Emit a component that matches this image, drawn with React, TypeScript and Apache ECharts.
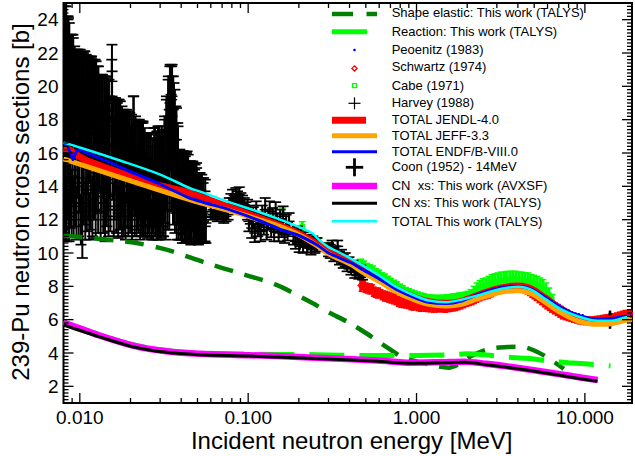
import React, { useEffect, useRef } from 'react';
import * as echarts from 'echarts';

const FONT = '"Liberation Sans", Arial, Helvetica, sans-serif';

// ---- axes ----
const xMin = 0.008;
const xMax = 19.05;
const yMin = 1;
const yMax = 25;
const xMajorTicks = [0.01, 0.1, 1, 10];
const xMinorTicks = [0.009, 0.02, 0.03, 0.04, 0.05, 0.06, 0.07, 0.08, 0.09, 0.2, 0.3, 0.4, 0.5, 0.6, 0.7, 0.8, 0.9, 2, 3, 4, 5, 6, 7, 8, 9];
const yMajorTicks = [2, 4, 6, 8, 10, 12, 14, 16, 18, 20, 22, 24];
const yMinorTicks: number[] = [];
for (let k = 6; k <= 124; k++) { if (k % 10 !== 0) yMinorTicks.push(k / 5); }

// ---- theory / evaluation curves ----
const shapeElE = [0.008, 0.0166, 0.0217, 0.0327, 0.0564, 0.088, 0.146, 0.23, 0.3, 0.4, 0.5, 0.6, 0.7, 0.84, 1.0, 1.2, 1.55, 1.8, 2.1, 2.7, 3.5, 4.2, 5.0, 5.9, 6.7, 7.5];
const shapeElY = [11.05, 10.75, 10.6, 10.2, 9.4, 8.8, 8.1, 7.1, 6.45, 5.8, 5.2, 4.65, 4.2, 3.7, 3.5, 3.3, 3.12, 3.35, 3.8, 4.25, 4.36, 4.38, 4.15, 3.77, 3.4, 3.05];

const reactionE = [0.008, 0.0131, 0.0206, 0.0327, 0.0513, 0.101, 0.25, 0.5, 1.0, 1.5, 2.0, 2.8, 3.5, 4.5, 6.4, 8.0, 10, 14.2];
const reactionY = [5.86, 5.1, 4.5, 4.15, 4.0, 3.93, 3.9, 3.85, 3.85, 3.88, 3.95, 3.85, 3.75, 3.68, 3.5, 3.42, 3.35, 3.22];

const jendlE = [0.008, 0.0086, 0.0107, 0.0192, 0.029, 0.039, 0.0448, 0.0772, 0.116, 0.153, 0.2, 0.26, 0.30, 0.41, 0.47, 0.6, 0.75, 0.99, 1.18, 1.5, 1.85, 2.3, 2.67, 3.2, 3.65, 4.0, 4.5, 5.0, 5.8, 7.2, 9.1, 11.9, 14.3, 17.3, 19.05];
const jendlY = [16.3, 16.2, 15.6, 14.66, 14.07, 13.77, 13.6, 12.75, 12.1, 11.65, 11.15, 10.5, 10.05, 9.4, 9.05, 8.45, 7.85, 7.3, 7.08, 6.98, 7.1, 7.45, 7.68, 7.9, 8.0, 8.02, 7.95, 7.75, 7.3, 6.65, 6.12, 5.98, 6.06, 6.25, 6.35];

const jeffE = [0.008, 0.0448, 0.0772, 0.116, 0.153, 0.2, 0.26, 0.30, 0.41, 0.47, 0.6, 0.75, 0.99, 1.18, 1.5, 1.85, 2.3, 2.67, 3.2, 3.65, 4.0, 4.5, 5.0, 5.8, 7.2, 9.1, 11.9, 14.3, 17.3, 19.05];
const jeffY = [15.65, 13.2, 12.55, 12.0, 11.6, 11.1, 10.4, 9.95, 9.3, 8.9, 8.3, 7.7, 7.15, 6.92, 6.82, 6.92, 7.25, 7.45, 7.65, 7.72, 7.74, 7.66, 7.48, 7.05, 6.42, 5.92, 5.72, 5.75, 5.95, 6.02];

const endfE = [0.008, 0.0084, 0.0088, 0.0091, 0.0094, 0.0098, 0.0107, 0.015, 0.0192, 0.029, 0.0448, 0.0772, 0.116, 0.153, 0.2, 0.26, 0.30, 0.41, 0.47, 0.6, 0.75, 0.99, 1.18, 1.5, 1.85, 2.3, 2.67, 3.2, 3.65, 4.0, 4.5, 5.0, 5.8, 7.2, 9.1, 11.9, 14.3, 17.3, 19.05];
const endfY = [16.6, 16.45, 16.0, 15.6, 15.95, 16.2, 16.05, 15.45, 14.95, 14.2, 13.3, 12.6, 11.95, 11.45, 11.05, 10.45, 10.0, 9.4, 9.05, 8.45, 7.85, 7.3, 7.05, 6.97, 7.12, 7.5, 7.72, 7.93, 8.0, 8.0, 7.93, 7.75, 7.35, 6.72, 6.27, 6.02, 6.07, 6.2, 6.22];

const cnE = [0.008, 0.0131, 0.0206, 0.0327, 0.0513, 0.101, 0.25, 0.59, 0.93, 1.4, 1.94, 2.6, 3.6, 5.7, 8.5, 11.9];
const cnAvxsfY = [5.82, 5.05, 4.45, 4.1, 3.95, 3.87, 3.72, 3.55, 3.42, 3.45, 3.48, 3.35, 3.17, 2.88, 2.6, 2.38];
const cnTalysY = [5.68, 4.97, 4.38, 4.04, 3.9, 3.82, 3.67, 3.5, 3.38, 3.41, 3.44, 3.3, 3.12, 2.82, 2.53, 2.3];

const totTalysE = [0.008, 0.01, 0.0173, 0.0298, 0.0448, 0.0513, 0.0772, 0.116, 0.153, 0.175, 0.239, 0.263, 0.30, 0.33, 0.41, 0.47, 0.6, 0.75, 0.99, 1.18, 1.5, 1.85, 2.3, 2.67, 3.2, 3.65, 4.0, 4.5, 5.0, 5.8, 7.2, 9.1, 11.9, 14.3, 17.3, 18.5];
const totTalysY = [16.62, 16.33, 15.55, 14.72, 13.9, 13.7, 13.05, 12.46, 12.02, 11.8, 11.2, 10.8, 10.35, 10.15, 9.65, 9.3, 8.65, 8.0, 7.42, 7.15, 7.05, 7.2, 7.45, 7.65, 7.85, 7.95, 7.98, 7.9, 7.7, 7.25, 6.63, 6.19, 5.93, 5.93, 6.13, 6.2];

// ---- experimental data: [energy MeV, sigma b, error b] ----
const peoenitz: number[][] = [
  [2.2, 7.55, 0.12], [2.3, 7.6, 0.12], [2.4, 7.68, 0.12], [5.6, 7.55, 0.15], [5.9, 7.35, 0.15], [6.2, 7.2, 0.15],
  [6.5, 7.05, 0.15], [6.8, 6.9, 0.15], [7.1, 6.8, 0.15], [7.4, 6.68, 0.15], [7.7, 6.55, 0.15], [8.0, 6.48, 0.15],
  [8.4, 6.4, 0.12], [8.8, 6.33, 0.12], [9.2, 6.28, 0.12], [9.7, 6.22, 0.12], [17.5, 6.3, 0.1], [18.3, 6.32, 0.1], [19.0, 6.35, 0.1],
];

const schwartz: number[][] = [
  [0.466, 8.05, 0.35], [0.478, 8.1, 0.3], [0.49, 8.0, 0.35], [0.505, 7.9, 0.3], [0.52, 7.85, 0.3], [0.535, 7.85, 0.3],
  [0.55, 7.75, 0.35], [0.565, 7.65, 0.3], [0.58, 7.6, 0.3], [0.6, 7.6, 0.3], [0.62, 7.5, 0.3], [0.64, 7.42, 0.3],
  [0.66, 7.4, 0.3], [0.68, 7.35, 0.3], [0.70, 7.3, 0.3], [0.725, 7.25, 0.3], [0.75, 7.2, 0.3], [0.775, 7.1, 0.3],
  [0.80, 7.05, 0.3], [0.83, 7.0, 0.28], [0.86, 6.95, 0.25], [0.89, 6.95, 0.28], [0.92, 6.9, 0.3], [0.95, 6.85, 0.28],
  [0.98, 6.85, 0.25], [1.015, 6.82, 0.28], [1.05, 6.8, 0.3], [1.085, 6.78, 0.27], [1.12, 6.75, 0.25], [1.16, 6.74, 0.25],
  [1.2, 6.72, 0.25], [1.25, 6.7, 0.25], [1.3, 6.7, 0.25], [1.35, 6.72, 0.25], [1.4, 6.72, 0.25], [1.45, 6.7, 0.25],
  [1.5, 6.7, 0.25], [1.55, 6.73, 0.25], [1.6, 6.75, 0.25], [1.66, 6.77, 0.25], [1.72, 6.8, 0.25], [1.78, 6.85, 0.25],
  [1.85, 6.9, 0.25], [1.92, 6.97, 0.25], [2.0, 7.05, 0.25], [2.07, 7.1, 0.25], [2.15, 7.15, 0.25], [2.22, 7.22, 0.25],
  [2.3, 7.3, 0.25], [2.4, 7.38, 0.25], [2.5, 7.45, 0.25], [2.6, 7.5, 0.25], [2.7, 7.55, 0.25], [2.8, 7.62, 0.25],
  [2.9, 7.7, 0.25], [3.0, 7.75, 0.22], [3.1, 7.8, 0.2], [3.22, 7.85, 0.2], [3.35, 7.9, 0.2], [3.47, 7.93, 0.2],
  [3.6, 7.95, 0.2], [3.75, 7.96, 0.2], [3.9, 7.95, 0.2], [4.05, 7.93, 0.2], [4.2, 7.9, 0.2], [4.35, 7.85, 0.22],
  [4.5, 7.8, 0.25], [4.65, 7.7, 0.25], [4.8, 7.6, 0.25], [4.95, 7.5, 0.25], [5.1, 7.4, 0.25], [5.3, 7.27, 0.25],
  [5.5, 7.15, 0.25], [5.7, 7.02, 0.25], [5.9, 6.9, 0.25], [6.1, 6.8, 0.25], [6.3, 6.7, 0.25], [6.55, 6.6, 0.25],
  [6.8, 6.5, 0.25], [7.05, 6.4, 0.25], [7.3, 6.3, 0.25], [7.6, 6.22, 0.22], [7.9, 6.15, 0.2], [8.2, 6.1, 0.2],
  [8.5, 6.05, 0.2], [8.85, 6.0, 0.2], [9.2, 5.95, 0.2], [9.6, 5.92, 0.2], [10.0, 5.9, 0.2], [10.4, 5.9, 0.2],
  [10.8, 5.92, 0.2], [11.25, 5.96, 0.2], [11.7, 6.0, 0.2], [12.15, 6.02, 0.2], [12.6, 6.05, 0.2], [13.1, 6.08, 0.2],
  [13.6, 6.1, 0.2], [14.15, 6.12, 0.2], [14.7, 6.15, 0.2], [15.3, 6.2, 0.2], [15.9, 6.25, 0.2], [16.55, 6.3, 0.2],
  [17.2, 6.35, 0.2], [17.9, 6.38, 0.18], [18.6, 6.4, 0.15],
];

const cabe: number[][] = [
  [0.1596, 12.38, 0.32], [0.2096, 11.58, 0.3], [0.2633, 10.6, 0.3], [0.3085, 10.3, 0.3],
  [0.297, 10.4, 0.2], [0.33, 9.9, 0.2], [0.36, 9.6, 0.2], [0.396, 9.4, 0.2], [0.436, 9.1, 0.2],
  [0.4656, 9.45, 0.18], [0.4849, 9.35, 0.17], [0.5051, 9.22, 0.15], [0.5263, 9.15, 0.14], [0.5482, 9.04, 0.18],
  [0.5711, 8.9, 0.15], [0.5949, 8.8, 0.17], [0.6197, 8.67, 0.14], [0.6455, 8.58, 0.16], [0.6725, 8.45, 0.15],
  [0.7005, 8.33, 0.14], [0.7297, 8.22, 0.15], [0.7603, 8.12, 0.15], [0.7919, 8.0, 0.13], [0.825, 7.9, 0.13],
  [0.8594, 7.8, 0.12], [0.8953, 7.74, 0.12], [0.9326, 7.65, 0.12], [0.9712, 7.58, 0.13], [1.012, 7.52, 0.14],
  [1.054, 7.46, 0.14], [1.098, 7.41, 0.15], [1.144, 7.35, 0.16], [1.192, 7.32, 0.17], [1.241, 7.3, 0.17],
  [1.293, 7.28, 0.17], [1.347, 7.28, 0.18], [1.403, 7.27, 0.19], [1.462, 7.26, 0.2], [1.522, 7.28, 0.22],
  [1.586, 7.29, 0.21], [1.652, 7.33, 0.22], [1.721, 7.35, 0.21], [1.793, 7.38, 0.22], [1.867, 7.41, 0.2],
  [1.945, 7.45, 0.2], [2.026, 7.5, 0.2], [2.111, 7.57, 0.23], [2.199, 7.7, 0.3], [2.291, 7.82, 0.38],
  [2.386, 7.93, 0.42], [2.486, 8.01, 0.44], [2.589, 8.06, 0.44], [2.697, 8.14, 0.46], [2.81, 8.21, 0.49],
  [2.927, 8.26, 0.49], [3.049, 8.3, 0.5], [3.176, 8.35, 0.5], [3.308, 8.37, 0.48], [3.446, 8.4, 0.49],
  [3.59, 8.42, 0.48], [3.74, 8.43, 0.47], [3.896, 8.44, 0.46], [4.059, 8.42, 0.43], [4.228, 8.4, 0.45],
  [4.404, 8.36, 0.45], [4.588, 8.33, 0.47], [4.779, 8.24, 0.46], [4.979, 8.18, 0.48], [5.186, 8.09, 0.51],
  [5.403, 7.97, 0.53], [5.628, 7.85, 0.55], [5.862, 7.7, 0.5], [6.107, 7.5, 0.4], [6.361, 7.25, 0.25],
];

const harvey: number[][] = [
  [0.00802, 20.5, 4.8], [0.00806, 14.0, 3.0], [0.00812, 19.5, 5.8], [0.00818, 13.0, 2.2], [0.00824, 16.5, 3.5],
  [0.0083, 21.0, 4.2], [0.00836, 12.5, 1.8], [0.00842, 18.0, 4.2], [0.00849, 15.0, 3.0], [0.00856, 20.5, 3.6],
  [0.00863, 12.2, 1.5], [0.0087, 17.0, 3.5], [0.00878, 14.5, 3.0], [0.00886, 19.5, 3.6], [0.00894, 13.0, 2.0],
  [0.00902, 16.0, 3.0], [0.0091, 19.8, 3.3], [0.00919, 12.8, 1.8], [0.00928, 17.5, 3.0], [0.00937, 14.2, 2.6],
  [0.00946, 19.0, 3.2], [0.00955, 12.4, 1.6], [0.00965, 16.5, 3.2], [0.00975, 18.8, 3.4], [0.00985, 13.5, 2.5],
  [0.00995, 15.5, 3.0], [0.01005, 19.0, 3.2], [0.01015, 12.0, 1.5], [0.01025, 16.0, 3.0], [0.01035, 13.0, 3.3],
  [0.01045, 18.2, 3.0], [0.01056, 14.5, 2.8], [0.01067, 19.0, 3.1], [0.01078, 12.5, 1.7], [0.0109, 16.8, 3.0],
  [0.01101, 13.8, 2.5], [0.01113, 18.5, 3.3], [0.01125, 15.0, 3.0], [0.01137, 12.2, 1.4], [0.0115, 17.5, 3.2],
  [0.01162, 14.0, 2.6], [0.01175, 18.4, 3.4], [0.01188, 12.8, 1.8], [0.01201, 16.2, 3.0], [0.01214, 14.8, 2.8],
  [0.01228, 18.0, 3.6], [0.01242, 12.6, 1.7], [0.01256, 15.8, 3.2], [0.0127, 17.2, 3.2], [0.01285, 13.4, 2.2],
  [0.013, 16.8, 3.0], [0.01315, 17.3, 3.3], [0.0133, 12.4, 1.6], [0.01346, 15.5, 3.0], [0.01362, 17.2, 3.5],
  [0.01378, 13.6, 2.4], [0.01395, 16.0, 3.0], [0.01412, 12.0, 1.3], [0.01429, 17.0, 3.4], [0.01446, 14.4, 2.8],
  [0.01464, 15.6, 3.4], [0.01482, 12.8, 1.8], [0.015, 16.4, 3.0], [0.0152, 13.5, 2.2], [0.01548, 18.6, 3.0],
  [0.01552, 20.3, 2.2], [0.01555, 19.4, 1.5], [0.0157, 16.2, 3.0], [0.0159, 12.6, 1.6], [0.0161, 15.0, 3.0],
  [0.0163, 16.4, 2.9], [0.0165, 13.2, 2.0], [0.0167, 15.8, 3.2], [0.0169, 12.4, 1.5], [0.01712, 16.0, 3.2],
  [0.01734, 14.0, 2.6], [0.01756, 15.2, 3.0], [0.01778, 12.8, 1.8], [0.018, 15.6, 3.0], [0.01822, 13.0, 2.0],
  [0.01845, 15.0, 3.4], [0.01868, 12.2, 1.4], [0.01892, 15.8, 2.8], [0.01916, 14.0, 2.5], [0.0194, 12.8, 1.8],
  [0.01965, 15.2, 3.2], [0.0199, 13.6, 2.4], [0.02015, 14.6, 3.0], [0.0204, 12.4, 1.6], [0.02065, 15.0, 2.8],
  [0.0209, 16.0, 3.4], [0.02115, 13.2, 2.2], [0.02142, 15.2, 3.0], [0.0217, 12.6, 1.6], [0.02198, 14.6, 3.2],
  [0.02226, 13.4, 2.2], [0.02255, 15.0, 3.0], [0.02284, 12.2, 1.4], [0.02313, 14.8, 3.1], [0.02343, 13.0, 2.0],
  [0.02373, 15.0, 2.9], [0.02404, 12.8, 1.8], [0.02435, 14.4, 2.8], [0.02466, 13.2, 2.2], [0.02498, 14.6, 2.6],
  [0.0253, 12.4, 1.5], [0.02563, 14.2, 3.0], [0.02596, 13.0, 2.0], [0.0263, 14.4, 2.8], [0.02664, 12.0, 1.2],
  [0.02698, 13.8, 2.6], [0.02733, 12.6, 1.8], [0.02768, 14.5, 3.0], [0.02804, 12.8, 1.8], [0.0284, 14.0, 2.8],
  [0.02877, 12.3, 1.5], [0.02914, 14.8, 2.8], [0.02951, 13.2, 2.4], [0.02989, 14.2, 3.0], [0.03028, 12.5, 1.6],
  [0.03067, 14.6, 3.0], [0.03107, 13.0, 2.0], [0.03147, 14.0, 3.0], [0.03188, 15.0, 3.2], [0.03229, 13.0, 2.2],
  [0.0327, 16.0, 3.4], [0.03312, 14.4, 3.0], [0.03355, 17.0, 3.6], [0.03398, 15.0, 3.6], [0.03442, 18.2, 3.1],
  [0.03487, 16.0, 3.5], [0.03532, 17.4, 3.9], [0.0353, 19.4, 1.2], [0.03578, 15.2, 3.5], [0.03624, 16.8, 3.4],
  [0.03671, 14.0, 2.8], [0.03718, 15.6, 3.2], [0.03766, 13.0, 2.2], [0.03815, 14.8, 3.0], [0.03864, 12.6, 1.8],
  [0.03914, 13.8, 2.4], [0.03965, 12.4, 1.6], [0.04016, 13.4, 2.6], [0.04068, 12.0, 1.4], [0.04121, 13.6, 2.5],
  [0.04174, 12.8, 2.0], [0.04228, 13.2, 2.6], [0.04283, 12.2, 1.5], [0.04338, 13.8, 2.3], [0.04394, 12.6, 1.8],
  [0.04451, 13.2, 2.3], [0.04509, 12.0, 1.4], [0.04567, 13.0, 2.5], [0.04626, 12.4, 1.6], [0.04686, 13.4, 2.1],
  [0.04746, 12.0, 1.3], [0.04808, 12.8, 2.2], [0.0487, 12.2, 1.6], [0.04933, 13.0, 2.4], [0.04997, 12.6, 2.0],
  [0.05062, 12.0, 1.5], [0.05127, 12.8, 2.0], [0.05194, 12.2, 1.6], [0.05261, 12.6, 1.9], [0.05329, 11.8, 1.2],
  [0.05398, 12.4, 1.8], [0.05468, 12.0, 1.4], [0.05539, 12.2, 1.5], [0.0561, 11.8, 1.2],
  // upper part of the resonance-region cloud
  [0.00804, 22.5, 2.6], [0.00815, 21.8, 3.0], [0.00827, 22.0, 2.8], [0.00839, 21.5, 2.7], [0.00852, 21.8, 2.4],
  [0.00866, 21.0, 2.8], [0.0088, 21.0, 2.1], [0.00898, 20.8, 2.3], [0.00914, 20.5, 2.4], [0.00932, 20.2, 2.2],
  [0.0095, 20.0, 2.2], [0.0097, 19.8, 2.4], [0.0099, 20.2, 2.0], [0.0101, 19.8, 2.2], [0.0103, 20.0, 2.0],
  [0.0105, 19.6, 2.4], [0.0107, 19.9, 2.2], [0.0109, 19.5, 2.4], [0.0111, 19.8, 2.0], [0.0113, 19.4, 2.3],
  [0.0115, 19.6, 2.2], [0.0117, 19.3, 2.4], [0.0119, 19.6, 2.0], [0.0121, 19.2, 2.3], [0.0123, 19.4, 2.2],
  [0.0125, 19.0, 2.5], [0.0127, 19.2, 2.0], [0.0129, 18.8, 2.4], [0.0131, 18.6, 2.0], [0.0134, 18.6, 2.1],
  [0.0137, 18.4, 2.2], [0.014, 18.7, 1.9], [0.0143, 18.2, 2.4], [0.0146, 18.5, 2.0], [0.0149, 18.0, 2.4],
  [0.0154, 17.6, 1.7], [0.0158, 17.4, 1.9], [0.0162, 17.2, 2.0], [0.0166, 17.5, 1.7], [0.017, 17.0, 2.2],
  [0.0174, 17.3, 1.8], [0.0178, 16.8, 2.0], [0.0183, 16.8, 1.8], [0.0188, 16.4, 2.1], [0.0193, 16.6, 1.9],
  [0.0198, 16.2, 2.2], [0.0203, 16.5, 1.8], [0.0208, 17.6, 1.8], [0.0213, 16.2, 1.8], [0.0219, 16.0, 2.0],
  [0.0225, 16.2, 1.7], [0.0231, 15.8, 2.0], [0.0237, 16.0, 1.8], [0.0243, 15.6, 1.9], [0.025, 15.4, 1.8],
  [0.0257, 15.2, 2.0], [0.0264, 15.4, 1.7], [0.0271, 15.0, 1.9], [0.0279, 15.6, 1.9], [0.0287, 15.2, 2.1],
  [0.0295, 15.7, 1.9], [0.0303, 15.3, 2.0], [0.0311, 15.6, 1.8], [0.0319, 16.0, 2.0], [0.0327, 17.2, 2.0],
  [0.0335, 18.2, 2.2], [0.0343, 19.0, 2.2], [0.0351, 19.2, 2.0], [0.0359, 18.6, 2.0], [0.0367, 17.8, 2.0],
  [0.0375, 16.8, 1.9], [0.0383, 15.8, 1.8], [0.0392, 14.8, 1.4], [0.0401, 14.6, 1.5], [0.041, 14.8, 1.3],
  [0.042, 14.5, 1.5], [0.043, 14.6, 1.4], [0.044, 14.4, 1.5], [0.045, 14.2, 1.3], [0.0461, 14.0, 1.4],
  [0.0472, 14.2, 1.2], [0.0483, 13.8, 1.5], [0.0494, 13.8, 1.3], [0.0506, 13.6, 1.2], [0.0518, 13.4, 1.4],
  [0.053, 13.5, 1.2], [0.0543, 13.2, 1.3], [0.0556, 13.0, 1.4],
  // 0.06 - 0.5 MeV
  [0.06, 12.5, 0.35], [0.0618, 12.3, 0.3], [0.0636, 12.4, 0.35], [0.0655, 12.2, 0.3], [0.0675, 12.3, 0.3],
  [0.0695, 12.4, 0.35], [0.0716, 12.1, 0.3], [0.0738, 12.2, 0.3], [0.076, 12.3, 0.3],
  [0.0772, 12.9, 0.4], [0.079, 13.1, 0.45], [0.0808, 13.3, 0.5], [0.0826, 13.0, 0.45], [0.0845, 13.4, 0.5],
  [0.0865, 13.2, 0.5], [0.0885, 13.5, 0.45], [0.0905, 13.2, 0.4], [0.0926, 13.0, 0.45], [0.0947, 12.9, 0.4],
  [0.0969, 12.7, 0.35],
  [0.0992, 12.6, 0.6], [0.101, 11.9, 0.6], [0.103, 12.3, 0.55], [0.105, 11.5, 0.6], [0.1072, 12.1, 0.65],
  [0.1094, 11.2, 0.55], [0.1117, 12.4, 0.7], [0.114, 11.6, 0.6], [0.1163, 11.9, 0.55], [0.1187, 11.3, 0.6],
  [0.1212, 12.2, 0.65], [0.1237, 11.7, 0.6], [0.1262, 12.6, 0.7], [0.1288, 11.4, 0.6], [0.1315, 12.0, 0.6],
  [0.1342, 12.5, 0.6], [0.137, 11.5, 0.55], [0.1398, 12.1, 0.6], [0.1427, 11.3, 0.6], [0.1456, 12.4, 0.65],
  [0.1486, 11.8, 0.55], [0.1517, 11.2, 0.5], [0.1548, 12.0, 0.6], [0.158, 11.5, 0.55], [0.1612, 12.2, 0.6],
  [0.1645, 11.1, 0.5], [0.168, 11.7, 0.6], [0.1714, 11.3, 0.55], [0.175, 11.9, 0.5],
  [0.186, 11.0, 0.5], [0.191, 10.7, 0.45], [0.196, 11.1, 0.5], [0.201, 10.5, 0.45], [0.206, 10.9, 0.5],
  [0.212, 10.4, 0.4], [0.218, 10.8, 0.45], [0.224, 10.5, 0.45], [0.23, 10.7, 0.4], [0.236, 10.3, 0.4],
  [0.242, 10.6, 0.4], [0.249, 10.4, 0.4], [0.256, 10.5, 0.4],
  [0.3, 10.2, 0.4], [0.307, 10.1, 0.4], [0.315, 10.3, 0.45], [0.323, 9.9, 0.4], [0.331, 10.0, 0.4],
  [0.34, 10.4, 0.35], [0.349, 9.7, 0.4], [0.358, 9.8, 0.4], [0.367, 9.5, 0.4], [0.377, 9.6, 0.4],
  [0.387, 9.3, 0.4], [0.397, 9.4, 0.35], [0.408, 9.1, 0.4], [0.419, 9.2, 0.35], [0.43, 8.9, 0.4],
  [0.442, 9.0, 0.35], [0.454, 8.8, 0.35], [0.466, 8.9, 0.35], [0.478, 8.7, 0.3],
];

const coon: number[][] = [[14.1, 6.0, 0.55]];

// ---- legend ----
const legendLabels = [
  'Shape elastic: This work (TALYS)',
  'Reaction: This work (TALYS)',
  'Peoenitz (1983)',
  'Schwartz (1974)',
  'Cabe (1971)',
  'Harvey (1988)',
  'TOTAL JENDL-4.0',
  'TOTAL JEFF-3.3',
  'TOTAL ENDF/B-VIII.0',
  'Coon (1952) - 14MeV',
  'CN  xs: This work (AVXSF)',
  'CN xs: This work (TALYS)',
  'TOTAL This work (TALYS)',
];

const C_DKGREEN = '#008000';
const C_LTGREEN = '#00ff00';
const C_RED = '#ff0000';
const C_ORANGE = '#ffa500';
const C_BLUE = '#0000ff';
const C_MAGENTA = '#ff00ff';
const C_CYAN = '#00ffff';

const zip = (xs: number[], ys: number[]) => xs.map((x, i) => [x, ys[i]]);

function lineSeries(name: string, xs: number[], ys: number[], color: string, width: number, type: any = 'solid', smooth: any = 0.3) {
  return {
    type: 'line', name, data: zip(xs, ys), showSymbol: false, symbol: 'none', silent: true, smooth,
    lineStyle: { color, width, type, cap: 'butt' }, clip: true,
  };
}

function errSeries(name: string, data: number[][], o: { color: string; lw: number; cap: number; clw: number; marker: string; ms: number; mlw: number }) {
  return {
    type: 'custom', name, data, silent: true, clip: true, encode: { x: 0, y: 1 },
    renderItem: (params: any, api: any) => {
      const x = api.value(0), y = api.value(1), e = api.value(2);
      const c = api.coord([x, y]);
      const t = api.coord([x, y + e]);
      const b = api.coord([x, y - e]);
      const st = { stroke: o.color, lineWidth: o.lw };
      const cst = { stroke: o.color, lineWidth: o.clw };
      const mst = { stroke: o.color, lineWidth: o.mlw, fill: 'none' };
      const ch: any[] = [{ type: 'line', shape: { x1: c[0], y1: t[1], x2: c[0], y2: b[1] }, style: st }];
      if (o.cap > 0) {
        ch.push({ type: 'line', shape: { x1: c[0] - o.cap, y1: t[1], x2: c[0] + o.cap, y2: t[1] }, style: cst });
        ch.push({ type: 'line', shape: { x1: c[0] - o.cap, y1: b[1], x2: c[0] + o.cap, y2: b[1] }, style: cst });
      }
      const s = o.ms;
      if (o.marker === 'plus') {
        ch.push({ type: 'line', shape: { x1: c[0] - s, y1: c[1], x2: c[0] + s, y2: c[1] }, style: mst });
        ch.push({ type: 'line', shape: { x1: c[0], y1: c[1] - s, x2: c[0], y2: c[1] + s }, style: mst });
      } else if (o.marker === 'square') {
        ch.push({ type: 'rect', shape: { x: c[0] - s, y: c[1] - s, width: 2 * s, height: 2 * s }, style: mst });
      } else if (o.marker === 'diamond') {
        ch.push({ type: 'polygon', shape: { points: [[c[0], c[1] - s], [c[0] + s, c[1]], [c[0], c[1] + s], [c[0] - s, c[1]]] }, style: mst });
      } else if (o.marker === 'dot') {
        ch.push({ type: 'circle', shape: { cx: c[0], cy: c[1], r: s }, style: { fill: o.color } });
      }
      return { type: 'group', children: ch };
    },
  };
}

const tickData = [
  ...xMajorTicks.map((v) => [v, 10, 0]),
  ...xMinorTicks.map((v) => [v, 10, 1]),
  ...yMajorTicks.map((v) => [1, v, 2]),
  ...yMinorTicks.map((v) => [1, v, 3]),
];

const tickSeries = {
  type: 'custom', name: 'ticks', data: tickData, silent: true, clip: false, encode: { x: 0, y: 1 }, z: 10,
  renderItem: (params: any, api: any) => {
    const cs = params.coordSys;
    const kind = api.value(2);
    const p = api.coord([api.value(0), api.value(1)]);
    const style = { stroke: '#000', lineWidth: 1.3 };
    if (kind < 2) {
      const len = kind === 0 ? 10 : 5;
      const yb = cs.y + cs.height, yt = cs.y;
      return { type: 'group', children: [
        { type: 'line', shape: { x1: p[0], y1: yb, x2: p[0], y2: yb - len }, style },
        { type: 'line', shape: { x1: p[0], y1: yt, x2: p[0], y2: yt + len }, style },
      ] };
    }
    const len = kind === 2 ? 10 : 5;
    const xl = cs.x, xr = cs.x + cs.width;
    return { type: 'group', children: [
      { type: 'line', shape: { x1: xl, y1: p[1], x2: xl + len, y2: p[1] }, style },
      { type: 'line', shape: { x1: xr, y1: p[1], x2: xr - len, y2: p[1] }, style },
    ] };
  },
};

function buildLegend() {
  const ys = [12.7, 31, 49, 66.7, 85, 102.7, 119.3, 135.7, 151.7, 166, 185, 202.3, 221];
  const x0 = 332, x1 = 377, mx = 354.5;
  const els: any[] = [];
  const ln = (xa: number, xb: number, y: number, color: string, w: number) => ({
    type: 'line', shape: { x1: xa, y1: y, x2: xb, y2: y }, style: { stroke: color, lineWidth: w },
  });
  els.push(ln(x0, 353, 14, C_DKGREEN, 4.5));
  els.push(ln(366.5, x1, 14, C_DKGREEN, 4.5));
  els.push(ln(x0, 367, 31.7, C_LTGREEN, 5));
  els.push({ type: 'circle', shape: { cx: mx, cy: 50, r: 1.3 }, style: { fill: C_BLUE } });
  els.push({ type: 'polygon', shape: { points: [[mx, 65.8], [mx + 2.6, 68.4], [mx, 71], [mx - 2.6, 68.4]] }, style: { fill: 'none', stroke: C_RED, lineWidth: 1.3 } });
  els.push({ type: 'rect', shape: { x: mx - 2, y: 83.7, width: 4, height: 4 }, style: { fill: 'none', stroke: C_LTGREEN, lineWidth: 1.3 } });
  els.push({ type: 'line', shape: { x1: mx - 6, y1: 103.3, x2: mx + 6, y2: 103.3 }, style: { stroke: '#000', lineWidth: 1.2 } });
  els.push({ type: 'line', shape: { x1: mx, y1: 97.3, x2: mx, y2: 109.3 }, style: { stroke: '#000', lineWidth: 1.2 } });
  els.push(ln(x0, 366, 120.3, C_RED, 7));
  els.push(ln(x0, x1, 135.8, C_ORANGE, 5));
  els.push(ln(x0, x1, 151.7, C_BLUE, 3));
  els.push({ type: 'line', shape: { x1: mx - 8.7, y1: 167.3, x2: mx + 8.7, y2: 167.3 }, style: { stroke: '#000', lineWidth: 2.8 } });
  els.push({ type: 'line', shape: { x1: mx, y1: 158.3, x2: mx, y2: 176.3 }, style: { stroke: '#000', lineWidth: 2.8 } });
  els.push(ln(x0, x1, 186, C_MAGENTA, 6.5));
  els.push(ln(x0, x1, 203.3, '#000', 3));
  els.push(ln(x0, x1, 221.3, C_CYAN, 2.5));
  legendLabels.forEach((t, i) => {
    els.push({
      type: 'text', x: 391.7, y: ys[i],
      style: { text: t, fill: '#000', fontSize: 13, fontFamily: FONT, textAlign: 'left', verticalAlign: 'middle', textVerticalAlign: 'middle' },
    });
  });
  return els;
}

export default function App() {
  const ref = useRef<HTMLDivElement>(null);
  useEffect(() => {
    if (!ref.current) return;
    const chart = echarts.init(ref.current, undefined, { renderer: 'svg' });
    const isDecade = (v: number) => {
      const l = Math.log10(v);
      return Math.abs(l - Math.round(l)) < 1e-6;
    };
    const option: any = {
      animation: false,
      backgroundColor: '#ffffff',
      textStyle: { fontFamily: FONT },
      grid: { left: 63.5, right: 0.5, top: 3, bottom: 53, show: true, borderColor: '#000', borderWidth: 2, backgroundColor: 'transparent', containLabel: false },
      xAxis: {
        type: 'log', logBase: 10, min: xMin, max: xMax,
        axisLine: { show: false }, axisTick: { show: false }, splitLine: { show: false }, minorTick: { show: false },
        axisLabel: {
          fontSize: 19, fontFamily: FONT, color: '#000', margin: 5,
          formatter: (v: number) => (isDecade(v) ? v.toFixed(3) : ''),
        },
      },
      yAxis: {
        type: 'value', min: yMin, max: yMax, interval: 1,
        axisLine: { show: false }, axisTick: { show: false }, splitLine: { show: false },
        axisLabel: {
          fontSize: 19, fontFamily: FONT, color: '#000', margin: 5,
          formatter: (v: number) => (Math.round(v) % 2 === 0 ? String(Math.round(v)) : ''),
        },
      },
      series: [
        lineSeries('Shape elastic: This work (TALYS)', shapeElE, shapeElY, C_DKGREEN, 4.5, [19, 12]),
        lineSeries('Reaction: This work (TALYS)', reactionE, reactionY, C_LTGREEN, 5, [35, 15]),
        errSeries('Peoenitz (1983)', peoenitz, { color: C_BLUE, lw: 2, cap: 0, clw: 1, marker: 'dot', ms: 1.2, mlw: 1 }),
        errSeries('Schwartz (1974)', schwartz, { color: C_RED, lw: 3, cap: 2, clw: 1.5, marker: 'diamond', ms: 2.6, mlw: 1.3 }),
        errSeries('Cabe (1971)', cabe, { color: C_LTGREEN, lw: 3, cap: 3.5, clw: 1.5, marker: 'square', ms: 2, mlw: 1.3 }),
        errSeries('Harvey (1988)', harvey, { color: '#000', lw: 2, cap: 5.5, clw: 1.7, marker: 'plus', ms: 5.5, mlw: 1.5 }),
        lineSeries('TOTAL JENDL-4.0', jendlE, jendlY, C_RED, 7),
        lineSeries('TOTAL JEFF-3.3', jeffE, jeffY, C_ORANGE, 5),
        lineSeries('TOTAL ENDF/B-VIII.0', endfE, endfY, C_BLUE, 3, 'solid', 0.2),
        errSeries('Coon (1952) - 14MeV', coon, { color: '#000', lw: 2.5, cap: 0, clw: 1, marker: 'plus', ms: 7, mlw: 2.8 }),
        lineSeries('CN  xs: This work (AVXSF)', cnE, cnAvxsfY, C_MAGENTA, 6.5),
        lineSeries('CN xs: This work (TALYS)', cnE, cnTalysY, '#000', 3),
        lineSeries('TOTAL This work (TALYS)', totTalysE, totTalysY, C_CYAN, 2.5),
        tickSeries,
      ],
      graphic: [
        ...buildLegend(),
        {
          type: 'text', x: 351.7, y: 440,
          style: { text: 'Incident neutron energy [MeV]', fill: '#000', fontSize: 24, fontFamily: FONT, textAlign: 'center', verticalAlign: 'middle', textVerticalAlign: 'middle' },
        },
        {
          type: 'text', x: 20, y: 202, rotation: Math.PI / 2,
          style: { text: '239-Pu neutron cross sections [b]', fill: '#000', fontSize: 24, fontFamily: FONT, textAlign: 'center', verticalAlign: 'middle', textVerticalAlign: 'middle' },
        },
      ],
    };
    chart.setOption(option);
    return () => chart.dispose();
  }, []);
  return <div ref={ref} style={{ position: 'absolute', left: 0, top: 0, width: 635, height: 456 }} />;
}
